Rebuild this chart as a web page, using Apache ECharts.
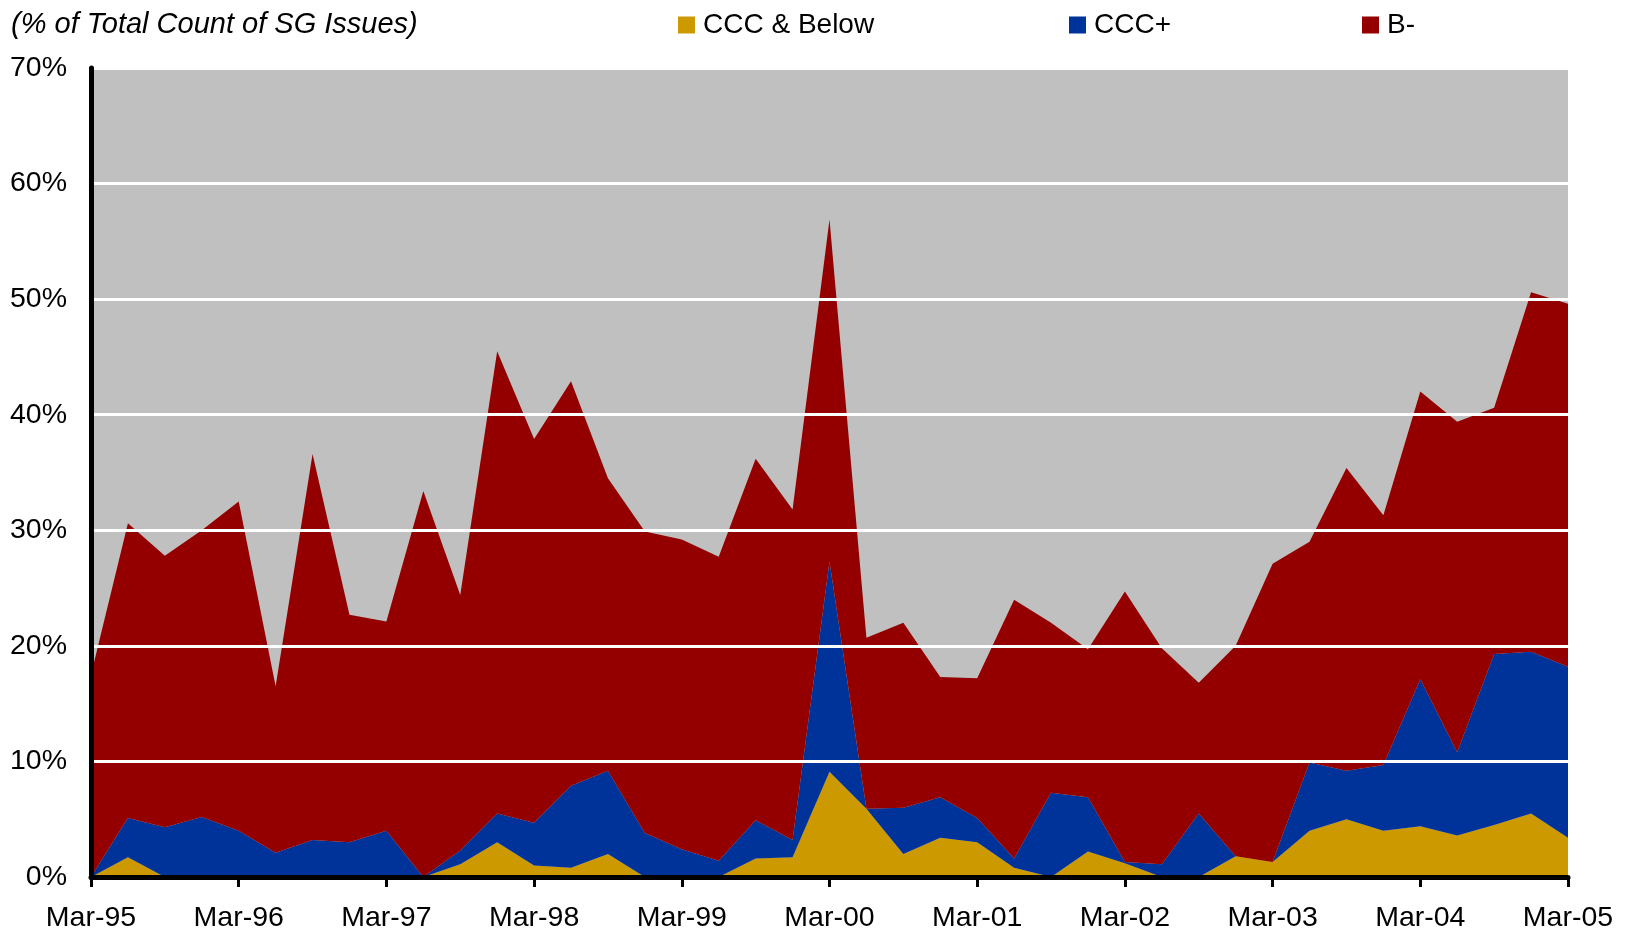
<!DOCTYPE html>
<html>
<head>
<meta charset="utf-8">
<title>SG Issues by Rating</title>
<script src="https://cdn.jsdelivr.net/npm/echarts@6/dist/echarts.min.js"></script>
<style>
  html, body { margin: 0; padding: 0; background: #ffffff; }
  #chart { width: 1630px; height: 933px; }
</style>
</head>
<body>
<div id="chart"></div>
<script>
// Quarterly observations, Mar-95 through Mar-05
const quarters = [
  'Mar-95','Jun-95','Sep-95','Dec-95',
  'Mar-96','Jun-96','Sep-96','Dec-96',
  'Mar-97','Jun-97','Sep-97','Dec-97',
  'Mar-98','Jun-98','Sep-98','Dec-98',
  'Mar-99','Jun-99','Sep-99','Dec-99',
  'Mar-00','Jun-00','Sep-00','Dec-00',
  'Mar-01','Jun-01','Sep-01','Dec-01',
  'Mar-02','Jun-02','Sep-02','Dec-02',
  'Mar-03','Jun-03','Sep-03','Dec-03',
  'Mar-04','Jun-04','Sep-04','Dec-04',
  'Mar-05'
];

// Share of SG issues (%) by rating bucket, stacked bottom to top
const cccAndBelow = [
  0, 1.7, 0, 0, 0, 0, 0, 0, 0, 0,
  1.1, 3.0, 1.0, 0.8, 2.0, 0, 0, 0, 1.6, 1.7,
  9.1, 5.9, 2.0, 3.4, 3.0, 0.8, 0, 2.2, 1.2, 0,
  0, 1.8, 1.3, 4.0, 5.0, 4.0, 4.4, 3.6, 4.5, 5.5,
  3.4
];
const cccPlus = [
  0, 3.4, 4.3, 5.2, 4.0, 2.1, 3.2, 3.0, 4.0, 0,
  1.2, 2.5, 3.7, 7.1, 7.2, 3.8, 2.4, 1.4, 3.3, 1.5,
  18.2, 0, 4.0, 3.5, 2.1, 0.8, 7.3, 4.7, 0.1, 1.1,
  5.5, 0, 0, 5.9, 4.2, 5.7, 12.7, 7.2, 14.8, 14.0,
  14.8
];
const bMinus = [
  17.5, 25.5, 23.5, 24.8, 28.5, 14.4, 33.4, 19.7, 18.1, 33.4,
  22.1, 40.0, 33.2, 35.0, 25.3, 26.1, 26.8, 26.3, 31.3, 28.6,
  29.6, 14.8, 16.0, 10.4, 12.1, 22.4, 14.7, 12.8, 23.4, 18.7,
  11.3, 18.2, 25.8, 19.1, 26.2, 21.6, 24.9, 28.6, 21.3, 31.1,
  31.4
];

const yTicks = { min: 0, max: 70, step: 10 };

const colors = {
  cccBelow: '#CC9900',
  cccPlus: '#003399',
  bMinus: '#940000',
  plotBg: '#C0C0C0'
};

const FONT = '"Liberation Sans", Arial, Helvetica, sans-serif';

function areaSeries(name, data, color) {
  return {
    name: name,
    type: 'line',
    stack: 'share',
    data: data,
    symbol: 'none',
    smooth: false,
    lineStyle: { width: 0, color: color },
    itemStyle: { color: color },
    areaStyle: { color: color, opacity: 1 },
    emphasis: { disabled: true },
    silent: true
  };
}

function legendAt(name, left) {
  return {
    data: [name],
    left: left,
    top: 8,
    padding: 0,
    itemWidth: 17,
    itemHeight: 17,
    icon: 'rect',
    selectedMode: false,
    textStyle: {
      fontFamily: FONT,
      fontSize: 28,
      color: '#000',
      lineHeight: 34,
      padding: [0, 0, 0, 3]
    }
  };
}

const chart = echarts.init(document.getElementById('chart'), null, { renderer: 'canvas' });

chart.setOption({
  animation: false,
  backgroundColor: '#ffffff',
  title: {
    text: '(% of Total Count of SG Issues)',
    left: 11,
    top: 10,
    padding: 0,
    textStyle: {
      fontFamily: FONT,
      fontSize: 29,
      fontStyle: 'italic',
      fontWeight: 'normal',
      color: '#000',
      lineHeight: 30
    }
  },
  legend: [
    legendAt('CCC & Below', 678),
    legendAt('CCC+', 1069),
    legendAt('B-', 1362)
  ],
  grid: {
    left: 91,
    right: 62,
    top: 68,
    bottom: 55,
    show: true,
    backgroundColor: colors.plotBg,
    borderWidth: 0
  },
  xAxis: {
    type: 'category',
    data: quarters,
    boundaryGap: false,
    axisLine: { show: true, lineStyle: { color: '#000', width: 5 } },
    axisTick: {
      show: true,
      interval: 3,
      inside: false,
      length: 10,
      lineStyle: { color: '#000', width: 3 }
    },
    axisLabel: {
      interval: 3,
      margin: 27,
      fontFamily: FONT,
      fontSize: 28.5,
      color: '#000'
    },
    splitLine: { show: false },
    z: 10
  },
  yAxis: {
    type: 'value',
    min: yTicks.min,
    max: yTicks.max,
    interval: yTicks.step,
    axisLine: { show: true, lineStyle: { color: '#000', width: 5 } },
    axisTick: { show: false },
    axisLabel: {
      formatter: '{value}%',
      margin: 24,
      fontFamily: FONT,
      fontSize: 28.5,
      color: '#000'
    },
    splitLine: { show: true, lineStyle: { color: '#ffffff', width: 3 } },
    z: 10
  },
  series: [
    areaSeries('CCC & Below', cccAndBelow, colors.cccBelow),
    areaSeries('CCC+', cccPlus, colors.cccPlus),
    areaSeries('B-', bMinus, colors.bMinus)
  ]
});
</script>
</body>
</html>
